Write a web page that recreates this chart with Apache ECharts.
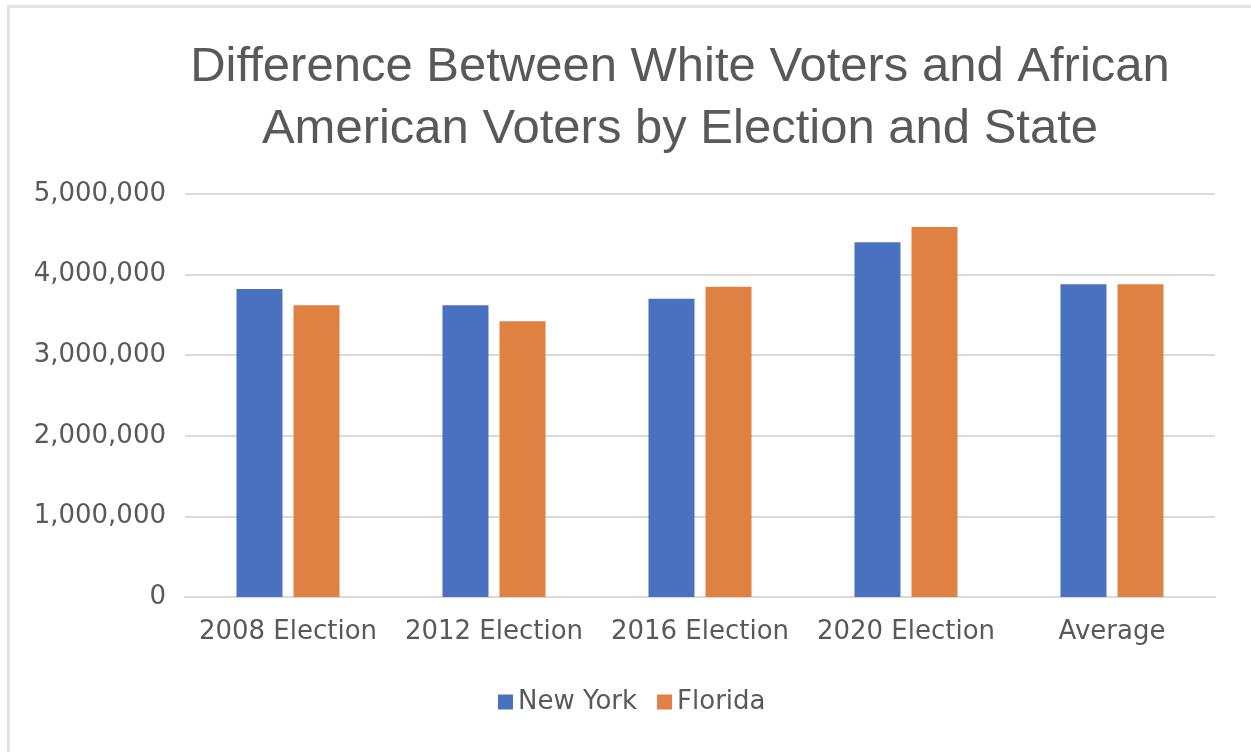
<!DOCTYPE html>
<html>
<head>
<meta charset="utf-8">
<script src="https://cdn.jsdelivr.net/npm/echarts@6/dist/echarts.min.js"></script>
<style>
  html, body { margin: 0; padding: 0; background: #fff; }
  #frame {
    position: absolute; left: 7px; top: 5px; width: 1244px; height: 747px;
    border-top: 3px solid #e2e2e2; border-left: 3px solid #e2e2e2;
    box-sizing: border-box;
  }
  #container { position: absolute; left: 0; top: 0; width: 1251px; height: 752px; }
</style>
</head>
<body>
<div id="frame"></div>
<div id="container"></div>
<script>
  const categories = ['2008 Election', '2012 Election', '2016 Election', '2020 Election', 'Average']
  const newYork = [3820000, 3620000, 3700000, 4400000, 3880000]
  const florida = [3620000, 3420000, 3850000, 4590000, 3880000]
  const yTicks = [0, 1000000, 2000000, 3000000, 4000000, 5000000]
  const colors = ['#4A70C0', '#DE8143']

  const myChart = echarts.init(document.getElementById('container'))
  const titleFont = 'Liberation Sans, Arial, Helvetica, sans-serif'
  const labelFont = 'DejaVu Sans, sans-serif'
  myChart.setOption({
    animation: false,
    color: colors,
    title: {
      text: 'Difference Between White Voters and African\nAmerican Voters by Election and State',
      left: 675,
      top: 31,
      textAlign: 'center',
      textStyle: {
        fontFamily: titleFont,
        fontSize: 49,
        fontWeight: 'normal',
        color: '#595959',
        lineHeight: 62
      }
    },
    legend: {
      data: ['New York', 'Florida'],
      left: 493,
      top: 684,
      itemWidth: 15,
      itemHeight: 15,
      itemGap: 20,
      icon: 'rect',
      textStyle: { fontFamily: labelFont, fontSize: 26, color: '#595959' }
    },
    grid: {
      left: 185,
      right: 36,
      top: 194,
      bottom: 155
    },
    xAxis: {
      type: 'category',
      data: categories,
      axisTick: { show: false },
      axisLine: { lineStyle: { color: '#d9d9d9', width: 2 } },
      axisLabel: {
        interval: 0,
        fontFamily: labelFont,
        fontSize: 26,
        color: '#595959',
        margin: 22
      }
    },
    yAxis: {
      type: 'value',
      min: yTicks[0],
      max: yTicks[yTicks.length - 1],
      interval: yTicks[1] - yTicks[0],
      axisLine: { show: false },
      axisTick: { show: false },
      splitLine: { lineStyle: { color: '#d9d9d9', width: 2 } },
      axisLabel: {
        fontFamily: labelFont,
        fontSize: 26,
        color: '#595959',
        margin: 19,
        formatter: v => v.toLocaleString('en-US')
      }
    },
    series: [{
      name: 'New York',
      type: 'bar',
      barWidth: 46,
      barGap: '24%',
      data: newYork
    }, {
      name: 'Florida',
      type: 'bar',
      barWidth: 46,
      barGap: '24%',
      data: florida
    }]
  })
</script>
</body>
</html>
